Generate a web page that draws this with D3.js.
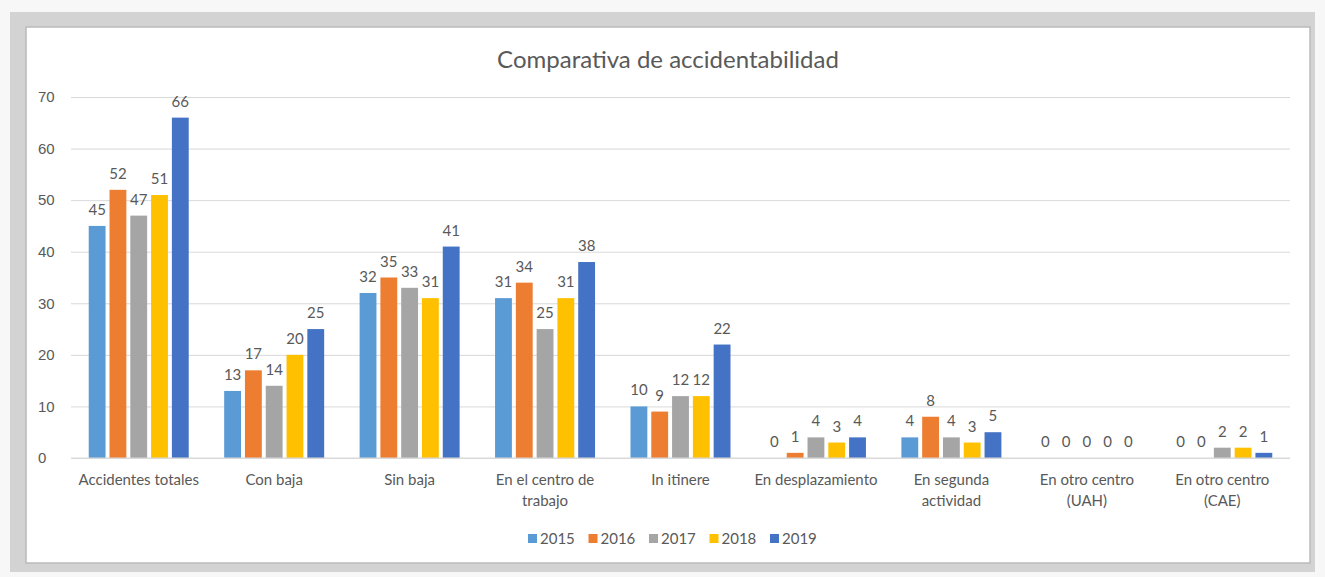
<!DOCTYPE html>
<html>
<head>
<meta charset="utf-8">
<script src="https://cdn.jsdelivr.net/npm/d3@7"></script>
<style>
  body { margin: 0; background: #fff; }
  svg { display: block; font-family: Lato, "Open Sans", sans-serif; }
</style>
</head>
<body>
<div id="chart"></div>
<script>
const categories = [
  ["Accidentes totales"], ["Con baja"], ["Sin baja"], ["En el centro de", "trabajo"],
  ["In itinere"], ["En desplazamiento"], ["En segunda", "actividad"],
  ["En otro centro", "(UAH)"], ["En otro centro", "(CAE)"]
];
const years = ["2015", "2016", "2017", "2018", "2019"];
const v2015 = [45, 13, 32, 31, 10, 0, 4, 0, 0];
const v2016 = [52, 17, 35, 34, 9, 1, 8, 0, 0];
const v2017 = [47, 14, 33, 25, 12, 4, 4, 0, 2];
const v2018 = [51, 20, 31, 31, 12, 3, 3, 0, 2];
const v2019 = [66, 25, 41, 38, 22, 4, 5, 0, 1];
const yTicks = [0, 10, 20, 30, 40, 50, 60, 70];
const colors = ["#5B9BD5", "#ED7D31", "#A5A5A5", "#FFC000", "#4472C4"];

const series = [v2015, v2016, v2017, v2018, v2019];
const width = 1325, height = 577;
const svg = d3.select("#chart").append("svg").attr("width", width).attr("height", height);

// frame
svg.append("rect").attr("width", width).attr("height", height).attr("fill", "#f7f7f7");
svg.append("rect").attr("x", 10).attr("y", 12).attr("width", 1305).attr("height", 560).attr("fill", "#d3d3d3");
svg.append("rect").attr("x", 26).attr("y", 27).attr("width", 1284).attr("height", 536)
  .attr("fill", "#fff").attr("stroke", "#bbb").attr("stroke-width", 1.5);

const y = d3.scaleLinear().domain([0, 70]).range([458, 97]);
const x0 = d3.scaleBand().domain(d3.range(categories.length)).range([71, 1290]);
const groupW = 100;
const x1 = d3.scaleBand().domain(d3.range(years.length)).range([0, groupW]).paddingInner(0.19);
const off = (x0.bandwidth() - groupW) / 2;
const txt = "#595959";

// gridlines + y axis labels
const gy = svg.append("g").attr("transform", "translate(71,0)")
  .call(d3.axisLeft(y).tickValues(yTicks).tickSize(-(1290 - 71)));
gy.select(".domain").remove();
gy.selectAll(".tick line").attr("stroke", "#d9d9d9").attr("stroke-width", 1);
gy.selectAll(".tick text").attr("fill", txt).style("font-size", "15px").attr("text-anchor", "start").attr("x", -33);

// bars
const groups = svg.append("g").selectAll("g").data(categories).join("g")
  .attr("transform", (d, i) => `translate(${x0(i) + off},0)`);

groups.each(function (c, ci) {
  const g = d3.select(this);
  const vals = series.map(s => s[ci]);
  g.selectAll("rect").data(vals).join("rect")
    .attr("x", (d, si) => x1(si))
    .attr("y", d => y(d))
    .attr("width", x1.bandwidth())
    .attr("height", d => y(0) - y(d))
    .attr("fill", (d, si) => colors[si]);
  g.selectAll("text").data(vals).join("text")
    .attr("x", (d, si) => x1(si) + x1.bandwidth() / 2)
    .attr("y", d => y(d) - 11)
    .attr("text-anchor", "middle")
    .attr("fill", txt)
    .style("font-size", "15px")
    .text(d => d);
});

// x axis line
svg.append("line").attr("x1", 71).attr("x2", 1290).attr("y1", y(0)).attr("y2", y(0))
  .attr("stroke", "#d9d9d9");

// category labels
const xl = svg.append("g").selectAll("text").data(categories).join("text")
  .attr("x", (d, i) => x0(i) + x0.bandwidth() / 2)
  .attr("y", 485)
  .attr("text-anchor", "middle")
  .attr("fill", txt)
  .style("font-size", "15px");
xl.selectAll("tspan").data(d => d).join("tspan")
  .attr("x", function () { return d3.select(this.parentNode).attr("x"); })
  .attr("dy", (d, i) => i === 0 ? 0 : 21)
  .text(d => d);

// title
svg.append("text").attr("x", 668).attr("y", 68).attr("text-anchor", "middle")
  .attr("fill", txt).style("font-size", "24px").text("Comparativa de accidentabilidad");

// legend
const legend = svg.append("g").attr("transform", "translate(528,544)");
const itemW = 60.5;
years.forEach((yr, i) => {
  const it = legend.append("g").attr("transform", `translate(${i * itemW},0)`);
  it.append("rect").attr("x", 0).attr("y", -10).attr("width", 9).attr("height", 9).attr("fill", colors[i]);
  it.append("text").attr("x", 12).attr("y", 0).attr("fill", txt).style("font-size", "15px").text(yr);
});
</script>
</body>
</html>
